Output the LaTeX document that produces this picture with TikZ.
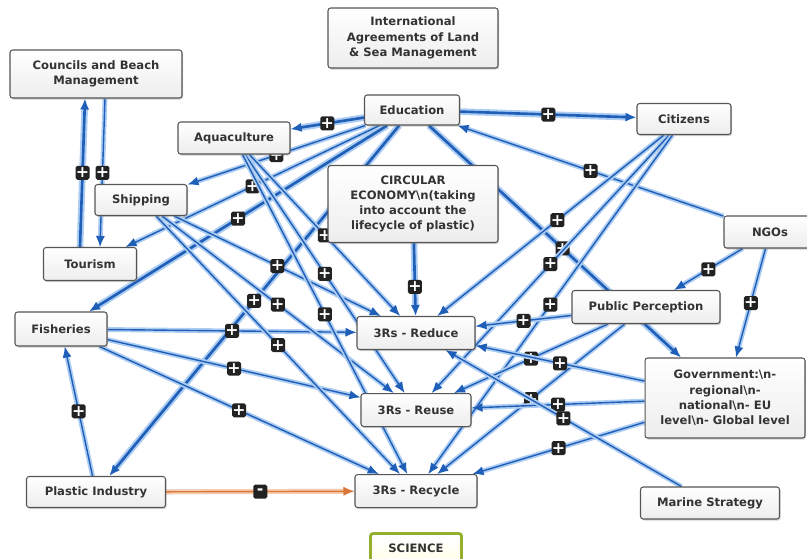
\documentclass[tikz,border=0pt]{standalone}
\usepackage{fontspec}
\setmainfont{DejaVu Sans}
\usetikzlibrary{arrows.meta,positioning,shadows}
\definecolor{linkblue}{HTML}{1F5FB8}
\definecolor{glowblue}{HTML}{AECDF2}
\definecolor{linkorange}{HTML}{D9783A}
\definecolor{gloworange}{HTML}{F7CDAE}
\definecolor{boxline}{HTML}{555555}
\definecolor{boxtext}{HTML}{333333}
\definecolor{signdark}{HTML}{222222}
\definecolor{scigreen}{HTML}{94AE2E}
\pgfdeclarelayer{back}
\pgfsetlayers{back,main}

\begin{document}
\begin{tikzpicture}[
    x=0.02cm, y=-0.02cm,
    concept/.style={rectangle, rounded corners=1.5pt, draw=boxline, line width=0.6pt,
        top color=white, bottom color=gray!14,
        drop shadow={opacity=0.35, shadow xshift=0.7pt, shadow yshift=-0.9pt},
        font=\fontsize{6.6}{8.7}\selectfont\bfseries, text=boxtext, align=center, inner sep=0pt},
    link/.style={draw=linkblue, line width=0.8pt, preaction={draw=glowblue, line width=2.8pt},
        -{Latex[length=2.2mm, width=1.8mm]}},
    strong/.style={link, line width=1.5pt, preaction={draw=glowblue, line width=3.8pt}},
    neg/.style={link, draw=linkorange, preaction={draw=gloworange, line width=2.8pt}},
    sign/.style={rectangle, rounded corners=1pt, fill=signdark, minimum size=0.28cm, inner sep=0pt,
        text=white, font=\fontsize{9}{9}\selectfont\bfseries}
]
    \useasboundingbox (0,0) rectangle (807,558);

    % Concepts
    \node[concept, minimum width=3.4cm, minimum height=1.2cm] (intl) at (413,38)
        {International\\Agreements of Land\\\& Sea Management};
    \node[concept, minimum width=3.44cm, minimum height=0.96cm] (coun) at (96,74)
        {Councils and Beach\\Management};
    \node[concept, minimum width=1.9cm, minimum height=0.6cm] (edu) at (412,110) {Education};
    \node[concept, minimum width=1.88cm, minimum height=0.62cm] (cit) at (684,119) {Citizens};
    \node[concept, minimum width=2.24cm, minimum height=0.64cm] (aqua) at (234,138) {Aquaculture};
    \node[concept, minimum width=1.84cm, minimum height=0.62cm] (ship) at (141,200) {Shipping};
    \node[concept, minimum width=3.4cm, minimum height=1.54cm] (ce) at (413,204)
        {CIRCULAR\\ECONOMY\textbackslash n(taking\\into account the\\lifecycle of plastic)};
    \node[concept, minimum width=1.86cm, minimum height=0.66cm] (tour) at (90,264) {Tourism};
    \node[concept, minimum width=1.84cm, minimum height=0.64cm] (ngo) at (770,232) {NGOs};
    \node[concept, minimum width=1.84cm, minimum height=0.68cm] (fish) at (61,329) {Fisheries};
    \node[concept, minimum width=2.96cm, minimum height=0.66cm] (pp) at (646,307) {Public Perception};
    \node[concept, minimum width=2.36cm, minimum height=0.66cm] (red) at (416,333) {3Rs - Reduce};
    \node[concept, minimum width=2.2cm, minimum height=0.66cm, below=0.86cm of red] (reu) {3Rs - Reuse};
    \node[concept, minimum width=2.44cm, minimum height=0.66cm, below=0.94cm of reu] (rec) {3Rs - Recycle};
    \node[concept, minimum width=3.2cm, minimum height=1.6cm] (gov) at (725,398)
        {Government:\textbackslash n-\\regional\textbackslash n-\\national\textbackslash n- EU\\level\textbackslash n- Global level};
    \node[concept, minimum width=2.78cm, minimum height=0.62cm] (pi) at (96,492) {Plastic Industry};
    \node[concept, minimum width=2.78cm, minimum height=0.64cm] (ms) at (710,503) {Marine Strategy};
    \node[concept, draw=scigreen, line width=1.6pt, top color=white, bottom color=yellow!8,
        minimum width=1.82cm, minimum height=0.6cm, below=0.48cm of rec] (sci) {SCIENCE};

    % Links
    \begin{pgfonlayer}{back}
    \draw[strong] (edu) -- node[sign]{+} (cit);
    \draw[strong] (edu) -- node[sign]{+} (aqua);
    \draw[link] (edu) -- node[sign]{+} (ship);
    \draw[link] (edu) -- node[sign]{+} (tour);
    \draw[strong] (edu) -- node[sign]{+} (fish);
    \draw[strong] (edu) -- node[sign]{+} (pi);
    \draw[strong] (edu) -- node[sign, pos=0.53]{+} (gov);
    \draw[link] (ngo) -- node[sign]{+} (edu);

    \draw[link] (cit) -- node[sign, pos=0.47]{+} (red);
    \draw[link] (cit) -- node[sign]{+} (reu);
    \draw[link] (cit) -- node[sign]{+} (rec);
    \draw[link] (ngo) -- node[sign]{+} (pp);
    \draw[link] (ngo) -- node[sign]{+} (gov);

    \draw[link] (pp) -- node[sign]{+} (red);
    \draw[link] (pp) -- node[sign]{+} (reu);
    \draw[link] (pp) -- node[sign]{+} (rec);
    \draw[link] (gov) -- node[sign]{+} (red);
    \draw[link] (gov) -- node[sign]{+} (reu);
    \draw[link] (gov) -- node[sign]{+} (rec);
    \draw[link] (ms) -- node[sign]{+} (red);

    \draw[link] (fish) -- node[sign]{+} (red);
    \draw[link] (fish) -- node[sign]{+} (reu);
    \draw[link] (fish) -- node[sign]{+} (rec);
    \draw[link] (pi) -- node[sign]{+} (fish);
    \draw[neg] (pi) -- node[sign]{-} (rec);
    \draw[strong] (ce) -- node[sign, pos=0.6]{+} (red);

    \draw[link] (ship) -- node[sign]{+} (red);
    \draw[link] (ship) -- node[sign]{+} (reu);
    \draw[link] (ship) -- node[sign]{+} (rec);
    \draw[link] (aqua) -- node[sign]{+} (red);
    \draw[link] (aqua) -- node[sign]{+} (reu);
    \draw[link] (aqua) -- node[sign]{+} (rec);

    \draw[strong] ([xshift=-0.2cm]tour.north) -- node[sign, pos=0.5]{+} ([xshift=-0.22cm]coun.south);
    \draw[link] ([xshift=0.18cm]coun.south) -- node[sign, pos=0.5]{+} ([xshift=0.2cm]tour.north);
    \end{pgfonlayer}
\end{tikzpicture}
\end{document}
